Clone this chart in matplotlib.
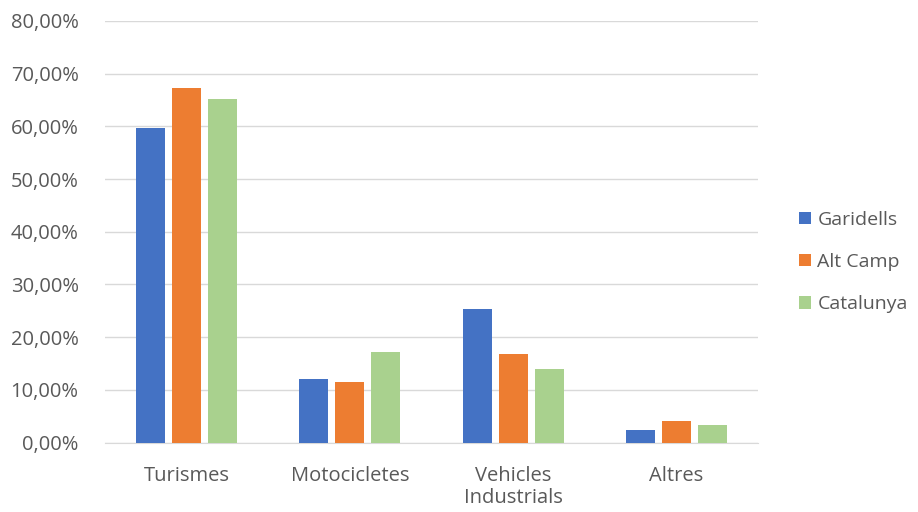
import matplotlib
matplotlib.use("Agg")
import matplotlib.pyplot as plt
import numpy as np
from matplotlib.ticker import FuncFormatter

plt.rcParams['font.family'] = ['Open Sans', 'DejaVu Sans']

categories = ["Turismes", "Motocicletes", "Vehicles\nIndustrials", "Altres"]
series_names = ["Garidells", "Alt Camp", "Catalunya"]
garidells = [59.7, 12.1, 25.4, 2.3]
alt_camp = [67.2, 11.5, 16.8, 4.1]
catalunya = [65.2, 17.1, 13.9, 3.4]
colors = ["#4472C4", "#ED7D31", "#A9D18E"]

fig = plt.figure(figsize=(9.18, 5.12), dpi=100)
ax = fig.add_axes([105 / 918, (512 - 442.5) / 512, (758 - 105) / 918, 421.5 / 512])

x = np.arange(len(categories))
width = 0.178
step = 0.22
for i, (vals, name) in enumerate(zip([garidells, alt_camp, catalunya], series_names)):
    ax.bar(x + (i - 1) * step, vals, width, color=colors[i], label=name, zorder=3)

ax.set_xlim(-0.5, len(categories) - 0.5)
ax.set_ylim(0, 80)
ax.set_yticks(np.arange(0, 81, 10))
ax.yaxis.set_major_formatter(FuncFormatter(lambda v, p: "{:.2f}%".format(v).replace(".", ",")))
ax.set_xticks(x)
ax.set_xticklabels(categories, linespacing=1.1)
ax.grid(axis='y', color='#D9D9D9', linewidth=1, zorder=0)
for s in ['top', 'right', 'left']:
    ax.spines[s].set_visible(False)
ax.spines['bottom'].set_color('#D9D9D9')
ax.tick_params(axis='both', length=0, labelsize=14.5, colors='#595959')
ax.tick_params(axis='y', pad=19)
ax.tick_params(axis='x', pad=17)

leg = fig.legend(loc='center left', bbox_to_anchor=(799 / 918, 1 - 262 / 512), frameon=False,
                 fontsize=14, handlelength=0.6, handleheight=0.6, handletextpad=0.35,
                 labelspacing=1.25, borderpad=0, borderaxespad=0)
for t in leg.get_texts():
    t.set_color('#595959')

fig.savefig("out.png", dpi=100)
